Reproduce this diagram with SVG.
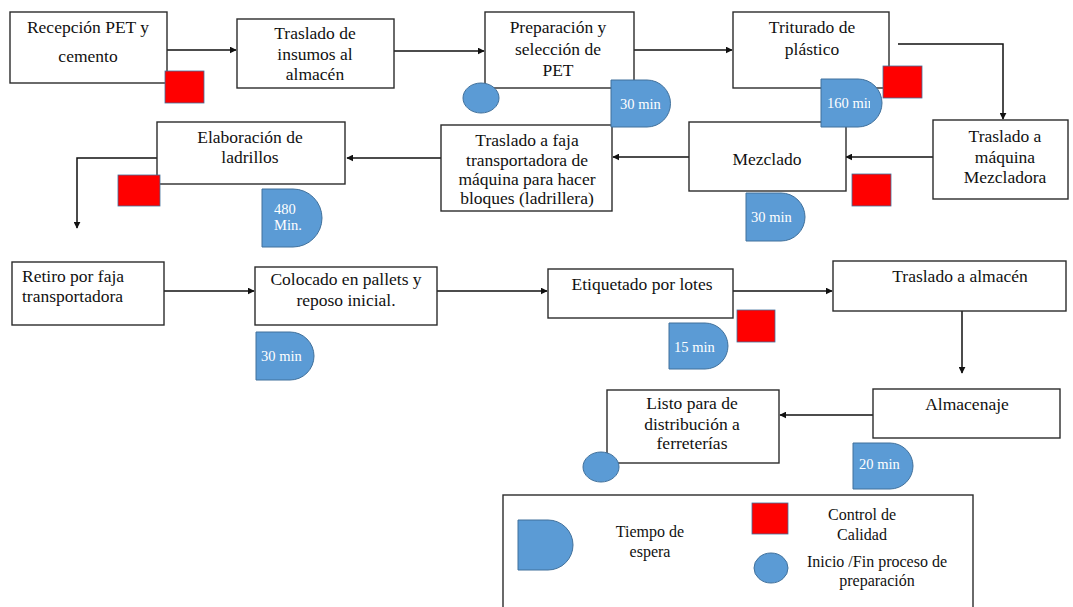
<svg xmlns="http://www.w3.org/2000/svg" width="1073" height="607" viewBox="0 0 1073 607">
  <style>
    .box { fill: #ffffff; stroke: #2b2b2b; stroke-width: 1.4; }
    .lbl { font-family: "Liberation Serif", "Times New Roman", serif; font-size: 17.5px; fill: #111111; text-anchor: middle; }
    .lbl-left { font-family: "Liberation Serif", "Times New Roman", serif; font-size: 17.5px; fill: #111111; }
    .key { font-family: "Liberation Serif", "Times New Roman", serif; font-size: 16px; fill: #111111; text-anchor: middle; }
    .wait { fill: #5B9BD5; stroke: #41719C; stroke-width: 1; }
    .wait-txt { font-family: "Liberation Serif", "Times New Roman", serif; font-size: 14.5px; fill: #ffffff; }
    .qc { fill: #FF0000; stroke: #41719C; stroke-width: 0.8; }
    .term { fill: #5B9BD5; stroke: #41719C; stroke-width: 1; }
    .edge { fill: none; stroke: #111111; stroke-width: 1.5; }
  </style>
  <defs>
    <marker id="arrow" viewBox="0 0 10 10" refX="9" refY="5" markerWidth="7" markerHeight="7" markerUnits="userSpaceOnUse" orient="auto">
      <path d="M0,0 L10,5 L0,10 Z" fill="#111111"/>
    </marker>
    <clipPath id="clip-wait-160">
      <rect x="821" y="79" width="49" height="48"/>
    </clipPath>
  </defs>

  <rect width="1073" height="607" fill="#ffffff"/>

  <!-- connectors -->
  <g id="connectors">
    <line class="edge" x1="167" y1="50" x2="236" y2="50" marker-end="url(#arrow)"/>
    <line class="edge" x1="394" y1="51" x2="484" y2="51" marker-end="url(#arrow)"/>
    <line class="edge" x1="634" y1="50" x2="732" y2="50" marker-end="url(#arrow)"/>
    <polyline class="edge" points="898,44 1003,44 1003,119" marker-end="url(#arrow)"/>
    <line class="edge" x1="933" y1="157" x2="846" y2="157" marker-end="url(#arrow)"/>
    <line class="edge" x1="689" y1="157" x2="613" y2="157" marker-end="url(#arrow)"/>
    <line class="edge" x1="441" y1="158" x2="347" y2="158" marker-end="url(#arrow)"/>
    <polyline class="edge" points="157,158 77,158 77,228" marker-end="url(#arrow)"/>
    <line class="edge" x1="161" y1="291" x2="254" y2="291" marker-end="url(#arrow)"/>
    <line class="edge" x1="437" y1="291" x2="547" y2="291" marker-end="url(#arrow)"/>
    <line class="edge" x1="733" y1="291" x2="832" y2="291" marker-end="url(#arrow)"/>
    <line class="edge" x1="962" y1="311" x2="962" y2="373" marker-end="url(#arrow)"/>
    <line class="edge" x1="873" y1="415" x2="780" y2="415" marker-end="url(#arrow)"/>
  </g>

  <!-- process steps -->
  <g id="recepcion">
    <rect class="box" x="10" y="12" width="157" height="71"/>
    <text class="lbl" x="88" y="33">Recepción PET y</text>
    <text class="lbl" x="88" y="62">cemento</text>
  </g>
  <g id="traslado-insumos">
    <rect class="box" x="237" y="19" width="157" height="69"/>
    <text class="lbl" x="315" y="39">Traslado de</text>
    <text class="lbl" x="315" y="60">insumos al</text>
    <text class="lbl" x="315" y="80">almacén</text>
  </g>
  <g id="preparacion">
    <rect class="box" x="485" y="12" width="149" height="76"/>
    <text class="lbl" x="558" y="33">Preparación y</text>
    <text class="lbl" x="558" y="55">selección de</text>
    <text class="lbl" x="558" y="76">PET</text>
  </g>
  <g id="triturado">
    <rect class="box" x="733" y="12" width="156" height="76"/>
    <text class="lbl" x="812" y="33">Triturado de</text>
    <text class="lbl" x="812" y="55">plástico</text>
  </g>
  <g id="traslado-mezcladora">
    <rect class="box" x="933" y="120" width="135" height="79"/>
    <text class="lbl" x="1005" y="142">Traslado a</text>
    <text class="lbl" x="1005" y="163">máquina</text>
    <text class="lbl" x="1005" y="183">Mezcladora</text>
  </g>
  <g id="mezclado">
    <rect class="box" x="689" y="122" width="157" height="69"/>
    <text class="lbl" x="767" y="165">Mezclado</text>
  </g>
  <g id="traslado-faja">
    <rect class="box" x="441" y="125" width="171" height="86"/>
    <text class="lbl" x="527" y="146">Traslado a faja</text>
    <text class="lbl" x="527" y="166">transportadora de</text>
    <text class="lbl" x="527" y="185">máquina para hacer</text>
    <text class="lbl" x="527" y="204">bloques (ladrillera)</text>
  </g>
  <g id="elaboracion">
    <rect class="box" x="157" y="122" width="188" height="62"/>
    <text class="lbl" x="250" y="143">Elaboración de</text>
    <text class="lbl" x="250" y="163">ladrillos</text>
  </g>
  <g id="retiro">
    <rect class="box" x="12" y="262" width="152" height="63"/>
    <text class="lbl-left" x="22" y="282">Retiro por faja</text>
    <text class="lbl-left" x="22" y="302">transportadora</text>
  </g>
  <g id="colocado">
    <rect class="box" x="255" y="267" width="182" height="58"/>
    <text class="lbl" x="346" y="285">Colocado en pallets y</text>
    <text class="lbl" x="346" y="306">reposo inicial.</text>
  </g>
  <g id="etiquetado">
    <rect class="box" x="548" y="269" width="185" height="49"/>
    <text class="lbl" x="642" y="290">Etiquetado por lotes</text>
  </g>
  <g id="traslado-almacen">
    <rect class="box" x="833" y="261" width="233" height="50"/>
    <text class="lbl" x="960" y="282">Traslado a almacén</text>
  </g>
  <g id="almacenaje">
    <rect class="box" x="873" y="389" width="187" height="49"/>
    <text class="lbl" x="967" y="410">Almacenaje</text>
  </g>
  <g id="listo">
    <rect class="box" x="607" y="390" width="172" height="73"/>
    <text class="lbl" x="692" y="409">Listo para de</text>
    <text class="lbl" x="692" y="430">distribución a</text>
    <text class="lbl" x="692" y="449">ferreterías</text>
  </g>

  <!-- quality control markers -->
  <g id="quality-checks">
    <rect class="qc" x="165" y="71" width="39" height="32"/>
    <rect class="qc" x="883" y="66" width="39" height="32"/>
    <rect class="qc" x="118" y="175" width="42" height="31"/>
    <rect class="qc" x="852" y="174" width="39" height="32"/>
    <rect class="qc" x="737" y="310" width="38" height="32"/>
  </g>

  <!-- start / end markers -->
  <g id="start-end">
    <ellipse class="term" cx="481" cy="98" rx="18" ry="15"/>
    <ellipse class="term" cx="601" cy="467" rx="18" ry="15"/>
  </g>

  <!-- waiting times -->
  <g id="wait-preparacion">
    <path class="wait" d="M611,80 H647 A23.5,23.5 0 0 1 647,127 H611 Z"/>
    <text class="wait-txt" x="620" y="109">30 min</text>
  </g>
  <g id="wait-triturado">
    <path class="wait" d="M821,79 H858 A24,24 0 0 1 858,127 H821 Z"/>
    <text class="wait-txt" x="827" y="108" clip-path="url(#clip-wait-160)">160 min</text>
  </g>
  <g id="wait-elaboracion">
    <path class="wait" d="M262,189 H293 A29,29 0 0 1 293,247 H262 Z"/>
    <text class="wait-txt" x="274" y="214">480</text>
    <text class="wait-txt" x="274" y="230">Min.</text>
  </g>
  <g id="wait-mezclado">
    <path class="wait" d="M746,193 H781 A24,24 0 0 1 781,241 H746 Z"/>
    <text class="wait-txt" x="751" y="222">30 min</text>
  </g>
  <g id="wait-colocado">
    <path class="wait" d="M256,332 H290 A24,24 0 0 1 290,380 H256 Z"/>
    <text class="wait-txt" x="261" y="361">30 min</text>
  </g>
  <g id="wait-etiquetado">
    <path class="wait" d="M669,323 H705 A23,23 0 0 1 705,369 H669 Z"/>
    <text class="wait-txt" x="674" y="352">15 min</text>
  </g>
  <g id="wait-almacenaje">
    <path class="wait" d="M853,443 H890 A23,23 0 0 1 890,489 H853 Z"/>
    <text class="wait-txt" x="859" y="469">20 min</text>
  </g>

  <!-- legend -->
  <g id="legend">
    <rect class="box" x="503" y="495" width="470" height="120"/>
    <path class="wait" d="M518,520 H548 A25,25 0 0 1 548,570 H518 Z"/>
    <text class="key" x="650" y="537">Tiempo de</text>
    <text class="key" x="650" y="557">espera</text>
    <rect class="qc" x="752" y="503" width="36" height="31"/>
    <text class="key" x="862" y="520">Control de</text>
    <text class="key" x="862" y="540">Calidad</text>
    <ellipse class="term" cx="771" cy="568" rx="17" ry="15"/>
    <text class="key" x="877" y="567">Inicio /Fin proceso de</text>
    <text class="key" x="877" y="586">preparación</text>
  </g>
</svg>
